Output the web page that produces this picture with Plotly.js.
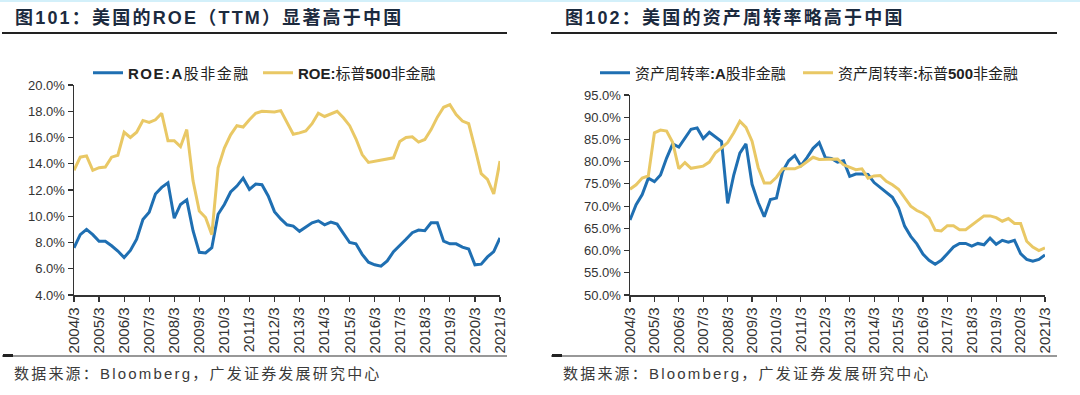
<!DOCTYPE html>
<html><head><meta charset="utf-8">
<script src="https://cdn.plot.ly/plotly-3.0.1.min.js"></script>
<style>
html,body{margin:0;padding:0;background:#fff;}
#chart{width:1080px;height:395px;}
.legendtext{letter-spacing:1.5px;}
.annotation-text{letter-spacing:2.2px;}
</style></head><body><div id="chart"></div>
<script>
const quarters = [
"2004/3","2004/6","2004/9","2004/12","2005/3","2005/6","2005/9","2005/12",
"2006/3","2006/6","2006/9","2006/12","2007/3","2007/6","2007/9","2007/12",
"2008/3","2008/6","2008/9","2008/12","2009/3","2009/6","2009/9","2009/12",
"2010/3","2010/6","2010/9","2010/12","2011/3","2011/6","2011/9","2011/12",
"2012/3","2012/6","2012/9","2012/12","2013/3","2013/6","2013/9","2013/12",
"2014/3","2014/6","2014/9","2014/12","2015/3","2015/6","2015/9","2015/12",
"2016/3","2016/6","2016/9","2016/12","2017/3","2017/6","2017/9","2017/12",
"2018/3","2018/6","2018/9","2018/12","2019/3","2019/6","2019/9","2019/12",
"2020/3","2020/6","2020/9","2020/12","2021/3"];
const yearTicks = ["2004/3","2005/3","2006/3","2007/3","2008/3","2009/3","2010/3","2011/3","2012/3",
"2013/3","2014/3","2015/3","2016/3","2017/3","2018/3","2019/3","2020/3","2021/3"];

// 图101 ROE (TTM), %
const roeA = [7.6,8.6,9.0,8.6,8.1,8.1,7.75,7.35,6.85,7.4,
8.25,9.75,10.3,11.7,12.2,12.55,9.85,10.9,11.25,8.9,
7.25,7.2,7.6,10.15,10.9,11.85,12.3,12.9,12.05,12.45,
12.4,11.55,10.35,9.8,9.35,9.25,8.85,9.2,9.5,9.65,
9.35,9.55,9.4,8.7,8.0,7.9,7.1,6.5,6.3,6.2,
6.6,7.3,7.75,8.25,8.75,8.95,8.9,9.5,9.5,8.1,
7.9,7.9,7.65,7.5,6.3,6.35,6.9,7.3,8.35];
const roeSP = [13.5,14.5,14.6,13.5,13.7,13.75,14.5,14.65,16.4,16.0,
16.4,17.3,17.15,17.35,17.85,15.75,15.75,15.3,16.6,12.7,
10.4,9.9,8.6,13.7,15.2,16.2,16.9,16.8,17.35,17.85,
18.0,18.0,17.95,18.05,17.1,16.25,16.35,16.5,17.05,17.85,
17.6,17.8,18.0,17.5,16.9,15.9,14.7,14.1,14.2,14.3,
14.4,14.45,15.7,16.0,16.05,15.65,15.85,16.6,17.55,18.3,
18.5,17.75,17.25,17.05,15.2,13.25,12.8,11.7,14.2];

// 图102 资产周转率, %
const turnA = [66.9,70.3,72.6,76.3,75.5,77.0,80.8,84.0,83.3,85.2,
87.3,87.6,85.2,86.6,85.6,84.5,70.6,77.0,81.9,84.0,
74.9,70.8,67.6,71.5,71.8,77.8,80.2,81.4,79.1,80.9,
83.0,84.3,80.9,80.7,79.9,80.2,76.7,77.2,77.2,77.1,
75.3,74.2,73.1,72.0,69.6,65.5,63.2,61.5,59.2,57.8,
56.9,57.8,59.3,60.8,61.6,61.6,61.0,61.6,61.3,62.8,
61.4,62.3,61.9,62.3,59.3,58.0,57.6,58.0,59.0];
const turnSP = [73.8,74.8,76.3,76.8,86.5,87.1,86.9,84.3,78.4,79.8,
78.5,78.8,79.0,79.9,82.0,83.1,84.3,86.5,89.1,87.7,
84.6,78.7,75.2,75.2,76.5,78.4,78.4,78.4,79.0,80.1,
81.0,80.5,80.5,80.6,80.6,79.3,78.7,78.2,78.4,76.3,
76.8,76.9,75.6,74.8,73.8,72.0,70.0,69.0,68.4,67.4,
64.6,64.4,65.6,65.6,64.7,64.7,65.7,66.7,67.8,67.8,
67.4,66.6,67.2,66.1,66.1,62.1,60.8,60.0,60.6];

const names = ["<b>ROE:A</b>股非金融","<b>ROE:</b>标普<b>500</b>非金融",
               "资产周转率<b>:A</b>股非金融","资产周转率<b>:</b>标普<b>500</b>非金融"];

const BLUE = "#1f6fb2", GOLD = "#e9c865";
const FONT = "'Liberation Sans', Arial, 'Noto Sans CJK SC', sans-serif";
const W = 1080, H = 395;
const px = v => v / W, py = v => 1 - v / H;

const traces = [
  {x: quarters, y: roeA, name: names[0], type: "scatter", mode: "lines", line: {color: BLUE, width: 3}, xaxis: "x", yaxis: "y", legend: "legend"},
  {x: quarters, y: roeSP, name: names[1], type: "scatter", mode: "lines", line: {color: GOLD, width: 3}, xaxis: "x", yaxis: "y", legend: "legend2"},
  {x: quarters, y: turnA, name: names[2], type: "scatter", mode: "lines", line: {color: BLUE, width: 3}, xaxis: "x2", yaxis: "y2", legend: "legend3"},
  {x: quarters, y: turnSP, name: names[3], type: "scatter", mode: "lines", line: {color: GOLD, width: 3}, xaxis: "x2", yaxis: "y2", legend: "legend4"}
];

const xBase = {
  type: "category", range: [0, quarters.length - 1], tickmode: "array", tickvals: yearTicks, ticktext: yearTicks,
  tickangle: -90, ticks: "outside", ticklen: 5, tickwidth: 1.2, tickcolor: "#333",
  showline: true, linecolor: "#333", linewidth: 1.5, showgrid: false, zeroline: false, automargin: false,
  tickfont: {family: FONT, size: 15, color: "#333"}, fixedrange: true
};
const yBase = {
  ticks: "outside", ticklen: 5, tickwidth: 1.2, tickcolor: "#333", tickformat: ".1f", ticksuffix: "%",
  showline: true, linecolor: "#333", linewidth: 1.5, showgrid: false, zeroline: false, automargin: false,
  tickfont: {family: FONT, size: 13, color: "#333"}, fixedrange: true
};
const legendAt = x => ({orientation: "h", x: px(x), xanchor: "left", y: py(73), yanchor: "middle",
  bgcolor: "rgba(0,0,0,0)", font: {family: FONT, size: 15, color: "#222"}});

const layout = {
  width: W, height: H, margin: {l: 0, r: 0, t: 0, b: 0, autoexpand: false},
  paper_bgcolor: "#fff", plot_bgcolor: "#fff",
  font: {family: FONT, color: "#333"},
  xaxis: Object.assign({}, xBase, {domain: [px(74), px(500)], anchor: "y"}),
  yaxis: Object.assign({}, yBase, {domain: [1 - 295 / H, 1 - 85 / H], range: [4, 20], tick0: 4, dtick: 2, anchor: "x"}),
  xaxis2: Object.assign({}, xBase, {domain: [px(630), px(1045)], anchor: "y2"}),
  yaxis2: Object.assign({}, yBase, {domain: [1 - 295 / H, 1 - 95 / H], range: [50, 95], tick0: 50, dtick: 5, anchor: "x2"}),
  showlegend: true,
  legend: legendAt(88),
  legend2: legendAt(258),
  legend3: legendAt(595),
  legend4: legendAt(798),
  shapes: [
    {type: "rect", xref: "paper", yref: "paper", x0: 0, x1: 1, y0: py(2), y1: 1, fillcolor: "#d3f0fa", line: {width: 0}},
    {type: "line", xref: "paper", yref: "paper", x0: px(2), x1: px(507), y0: py(33), y1: py(33), line: {color: "#222", width: 2}},
    {type: "line", xref: "paper", yref: "paper", x0: px(551), x1: px(1057), y0: py(33), y1: py(33), line: {color: "#222", width: 2}},
    {type: "line", xref: "paper", yref: "paper", x0: px(2), x1: px(507), y0: py(356), y1: py(356), line: {color: "#333", width: 1.2}},
    {type: "line", xref: "paper", yref: "paper", x0: px(3), x1: px(13), y0: py(355.5), y1: py(355.5), line: {color: "#222", width: 3}},
    {type: "line", xref: "paper", yref: "paper", x0: px(551), x1: px(1057), y0: py(356), y1: py(356), line: {color: "#333", width: 1.2}},
    {type: "line", xref: "paper", yref: "paper", x0: px(552), x1: px(562), y0: py(355.5), y1: py(355.5), line: {color: "#222", width: 3}}
  ],
  annotations: [
    {text: "<b>图101：美国的ROE（TTM）显著高于中国</b>", xref: "paper", yref: "paper", x: px(13), y: py(17),
     xanchor: "left", yanchor: "middle", showarrow: false, font: {family: FONT, size: 18, color: "#1b2a3e"}},
    {text: "<b>图102：美国的资产周转率略高于中国</b>", xref: "paper", yref: "paper", x: px(563), y: py(17),
     xanchor: "left", yanchor: "middle", showarrow: false, font: {family: FONT, size: 18, color: "#1b2a3e"}},
    {text: "数据来源：Bloomberg，广发证券发展研究中心", xref: "paper", yref: "paper", x: px(12), y: py(373),
     xanchor: "left", yanchor: "middle", showarrow: false, font: {family: FONT, size: 15, color: "#3a3a3a"}},
    {text: "数据来源：Bloomberg，广发证券发展研究中心", xref: "paper", yref: "paper", x: px(561), y: py(373),
     xanchor: "left", yanchor: "middle", showarrow: false, font: {family: FONT, size: 15, color: "#3a3a3a"}}
  ]
};

Plotly.newPlot("chart", traces, layout, {displayModeBar: false, staticPlot: true});
</script></body></html>
